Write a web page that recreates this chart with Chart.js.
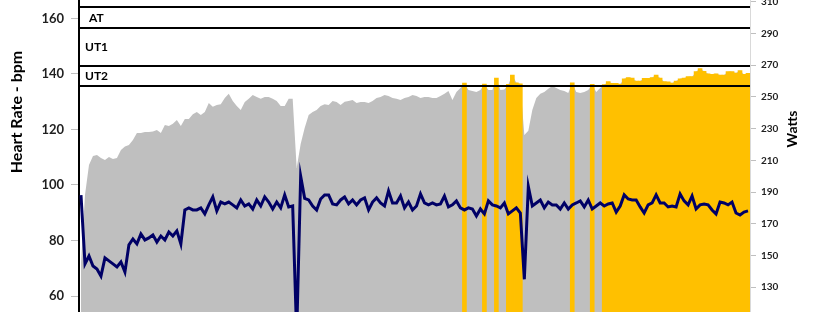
<!DOCTYPE html>
<html>
<head>
<meta charset="utf-8">
<script src="https://cdn.jsdelivr.net/npm/chart.js@4.4.1/dist/chart.umd.min.js"></script>
<style>
  html, body { margin: 0; padding: 0; background: #fff; }
  #wrap { position: relative; width: 820px; height: 312px; overflow: hidden; }
  #hrChart { position: absolute; left: 0; top: -20px; }
</style>
</head>
<body>
<div id="wrap"><canvas id="hrChart" width="820" height="352"></canvas></div>
<script>
// Heart rate (bpm), one reading per sample
const hrBpm = [
  72, 96.4, 107.2, 110.4, 110.8, 109.7, 109.0, 110.1, 109.3, 109.7,
  112.6, 113.8, 114.4, 116.2, 118.7, 118.7, 119.1, 119.1, 119.2, 119.8,
  118.7, 121.6, 121.2, 122.0, 123.4, 121.2, 123.7, 123.7, 125.5, 126.3,
  125.2, 126.3, 129.5, 128.2, 128.8, 129.1, 131.3, 132.8, 130.2, 128.4,
  127.0, 129.9, 131.0, 132.4, 131.7, 131.0, 131.7, 131.7, 131.0, 130.2,
  128.4, 128.4, 131.0, 131.0, 106.1, 114.7, 120.5, 125.2, 126.3, 127.0,
  128.4, 129.1, 128.8, 130.2, 129.9, 128.8, 130.0, 130.2, 130.6, 129.5,
  129.9, 129.9, 129.5, 130.2, 131.3, 131.7, 132.4, 132.0, 131.3, 131.0,
  130.6, 131.3, 131.7, 132.4, 132.0, 131.3, 131.7, 131.7, 131.3, 131.3,
  132.0, 132.8, 133.8, 130.6, 133.5, 134.9, 136.7, 134.2, 133.8, 133.5,
  134.2, 136.3, 134.2, 134.2, 138.5, 134.2, 134.4, 136.2, 139.6, 136.8,
  136.4, 118.0, 119.5, 127.0, 131.3, 132.8, 133.5, 134.6, 135.6, 134.9,
  134.2, 133.8, 133.1, 136.8, 133.5, 133.1, 133.5, 134.2, 136.2, 133.5,
  134.9, 136.1, 137.2, 136.6, 136.6, 136.3, 138.2, 138.7, 138.5, 137.4,
  137.4, 138.4, 138.4, 138.7, 139.6, 138.5, 137.2, 137.1, 136.7, 137.4,
  138.2, 138.5, 139.0, 139.0, 140.8, 141.9, 140.9, 140.0, 139.8, 140.0,
  139.6, 139.6, 140.8, 140.8, 140.3, 141.2, 139.8, 140.2
];

// Power (watts), same samples
const powerW = [
  188, 144.7, 149.7, 143.4, 141.5, 137, 148.5, 146.6, 144.7, 142.8,
  145.9, 139.6, 156.7, 160.4, 157.3, 163.6, 159.8, 161.1, 163.0, 158.5,
  162.3, 159.8, 164.8, 162.3, 165.5, 157.3, 178.7, 180.0, 178.7, 178.7,
  180.0, 176.2, 181.9, 186.9, 178.1, 183.7, 182.5, 183.7, 181.9, 180.0,
  185.0, 181.2, 182.5, 179.3, 185.0, 181.2, 186.9, 183.7, 179.3, 183.7,
  180.0, 188.2, 180.6, 181.2, 100, 200, 186, 185.0, 181.2, 178.7,
  185.6, 188.2, 188.2, 182.5, 181.9, 185.0, 186.9, 182.5, 185.0, 181.9,
  185.0, 186.3, 178.7, 183.7, 186.3, 183.1, 181.2, 190.7, 183.1, 183.1,
  187.5, 180.0, 183.7, 178.7, 181.2, 188.8, 183.1, 181.9, 183.1, 181.9,
  182.5, 187.5, 180.6, 181.9, 184.4, 180.0, 178.7, 180.0, 179.3, 174.9,
  179.3, 176.2, 184.4, 181.9, 181.2, 180.0, 183.1, 176.2, 178.1, 180.0,
  176.8, 135, 193.5, 181.2, 183.1, 185.0, 180.0, 183.7, 181.9, 181.9,
  179.3, 183.1, 179.3, 181.9, 183.1, 184.4, 180.6, 185.0, 179.3, 181.2,
  183.1, 181.2, 182.5, 183.1, 177.4, 181.2, 188.2, 185.6, 185.0, 185.0,
  180.6, 176.8, 181.9, 183.1, 188.2, 183.1, 183.1, 180.6, 181.2, 180.6,
  188.8, 184.4, 181.9, 187.5, 179.3, 181.9, 182.5, 181.9, 178.7, 176.2,
  183.7, 183.1, 181.9, 183.7, 176.8, 175.5, 177.4, 178.1
];

// Training zone boundaries (bpm) and names
const zoneLines = [164, 156.5, 142.8, 135.7];
const zoneNames = ['AT', 'UT1', 'UT2'];
const ut2Threshold = 136;

const hrTicks = [60, 80, 100, 120, 140, 160];
const wattTicks = [130, 150, 170, 190, 210, 230, 250, 270, 290, 310];

const sampleLabels = hrBpm.map((_, i) => i + 1);
const hrAboveUT2 = hrBpm.map(v => (v >= ut2Threshold ? v : null));

const FONT = 'Lato, "Open Sans", sans-serif';

// Zone lines, zone names and axis titles
const zonePlugin = {
  id: 'zones',
  afterDatasetsDraw(chart) {
    const { ctx, chartArea, scales } = chart;
    const y = scales.yHR;
    ctx.save();
    ctx.strokeStyle = '#000';
    ctx.lineWidth = 2;
    zoneLines.forEach(v => {
      const py = Math.round(y.getPixelForValue(v));
      ctx.beginPath();
      ctx.moveTo(chartArea.left, py);
      ctx.lineTo(chartArea.right, py);
      ctx.stroke();
    });
    ctx.font = 'bold 12px ' + FONT;
    ctx.fillStyle = '#000';
    ctx.textBaseline = 'middle';
    zoneNames.forEach((name, i) => {
      const py = y.getPixelForValue((zoneLines[i] + zoneLines[i + 1]) / 2);
      const dx = name === 'AT' ? 10 : 6;
      ctx.fillText(name, chartArea.left + dx, py);
    });
    ctx.restore();
  },
  afterDraw(chart) {
    const { ctx, chartArea } = chart;
    ctx.save();
    ctx.fillStyle = '#000';
    ctx.textAlign = 'center';
    ctx.textBaseline = 'middle';

    ctx.save();
    ctx.translate(17, chartArea.top + 112);
    ctx.rotate(-Math.PI / 2);
    ctx.font = 'bold 16px ' + FONT;
    ctx.fillText('Heart Rate - bpm', 0, 0);
    ctx.restore();

    ctx.save();
    ctx.translate(792, chartArea.top + 129);
    ctx.rotate(-Math.PI / 2);
    ctx.font = 'bold 14px ' + FONT;
    ctx.fillText('Watts', 0, 0);
    ctx.restore();

    ctx.restore();
  }
};

new Chart(document.getElementById('hrChart'), {
  type: 'bar',
  data: {
    labels: sampleLabels,
    datasets: [
      {
        type: 'line',
        label: 'Heart Rate',
        data: hrBpm,
        yAxisID: 'yHR',
        borderWidth: 0,
        pointRadius: 0,
        backgroundColor: '#BFBFBF',
        fill: 'start',
        order: 3
      },
      {
        type: 'bar',
        label: 'Above UT2',
        data: hrAboveUT2,
        yAxisID: 'yHR',
        backgroundColor: '#FFC000',
        borderWidth: 0,
        barPercentage: 1,
        categoryPercentage: 1,
        order: 2
      },
      {
        type: 'line',
        label: 'Watts',
        data: powerW,
        yAxisID: 'yW',
        borderColor: '#000066',
        borderWidth: 3,
        pointRadius: 0,
        fill: false,
        order: 1
      }
    ]
  },
  options: {
    responsive: false,
    animation: false,
    devicePixelRatio: 1,
    layout: { padding: { top: 20, bottom: 20, left: 0, right: 0 } },
    plugins: {
      legend: { display: false },
      tooltip: { enabled: false }
    },
    scales: {
      x: {
        display: false,
        offset: true
      },
      yHR: {
        position: 'left',
        min: 54.24,
        max: 166.6,
        z: 1,
        afterBuildTicks: axis => { axis.ticks = hrTicks.map(v => ({ value: v })); },
        afterFit: axis => { axis.width = 79; },
        border: { color: '#000', width: 2 },
        grid: { drawOnChartArea: false, tickLength: 8, color: '#BFBFBF' },
        ticks: {
          padding: 7,
          color: '#1f1f1f',
          font: { family: FONT, size: 13, weight: 'bold' }
        }
      },
      yW: {
        position: 'right',
        min: 114.4,
        max: 311.0,
        afterBuildTicks: axis => { axis.ticks = wattTicks.map(v => ({ value: v })); },
        afterFit: axis => { axis.width = 70; },
        border: { color: '#D9D9D9', width: 1 },
        grid: { drawOnChartArea: false, tickLength: 6, color: '#BFBFBF' },
        ticks: {
          padding: 5,
          color: '#1f1f1f',
          font: { family: FONT, size: 10, weight: 'bold' }
        }
      }
    }
  },
  plugins: [zonePlugin]
});
</script>
</body>
</html>
